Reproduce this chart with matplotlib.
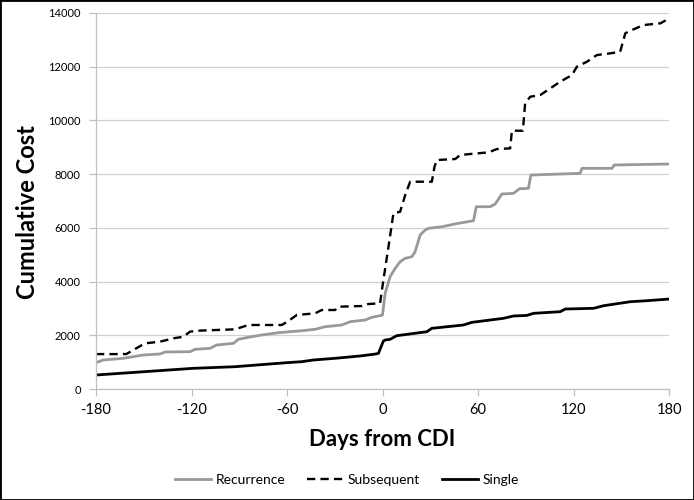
import matplotlib
matplotlib.use("Agg")
import matplotlib.pyplot as plt
from matplotlib.patches import Rectangle

# values
sub_days = [-180, -161, -156.6, -149.2, -139.8, -131.4, -125, -121, -116.7, -92.7,
            -84.3, -63.3, -59.2, -53.9, -42.4, -38.2, -29.8, -27.7, -13, -8.9,
            -1.6, 0.5, 3.7, 6.8, 11, 14.2, 17.3, 30.9, 32.6, 34.1,
            45.6, 48.7, 55, 64.4, 67.6, 71.8, 80.1, 81.2, 88.1, 89.5,
            92.7, 99, 105.3, 111.5, 118.9, 122, 128.3, 134.6, 143, 149.2,
            152.4, 155.5, 163.9, 174.4, 180]
sub_vals = [1300, 1300, 1452, 1700, 1761, 1887, 1947, 2133, 2170, 2222,
            2383, 2383, 2532, 2755, 2818, 2941, 2941, 3064, 3090, 3165,
            3190, 4058, 5298, 6540, 6600, 7223, 7718, 7718, 8277, 8526,
            8563, 8712, 8749, 8800, 8835, 8935, 8960, 9617, 9617, 10636,
            10882, 10945, 11195, 11441, 11690, 12000, 12185, 12435, 12498, 12558,
            13243, 13339, 13552, 13615, 13800]

rec_days = [-180, -175.4, -162.8, -156.6, -150.3, -139.8, -136.6, -120.9, -117.8, -108.4,
            -104.2, -93.7, -90.6, -84.3, -75.9, -65.5, -50.8, -42.4, -36.1, -25.6,
            -20.4, -11, -6.8, -2.6, -0.1, 1.6, 4.7, 7.9, 11, 14.2,
            18.4, 20.4, 23.6, 26.7, 28.8, 37.2, 47.6, 57.1, 58.8, 67.6,
            70.7, 74.9, 82.2, 86, 91.6, 93.1, 124.1, 125.2, 144, 145.5,
            168.1, 180]
rec_vals = [980, 1080, 1143, 1203, 1266, 1303, 1378, 1390, 1477, 1514,
            1638, 1700, 1850, 1925, 2010, 2096, 2170, 2222, 2320, 2383,
            2506, 2569, 2669, 2718, 2750, 3563, 4181, 4493, 4740, 4866,
            4925, 5112, 5733, 5920, 5983, 6043, 6169, 6266, 6787, 6787,
            6888, 7260, 7285, 7457, 7471, 7967, 8030, 8216, 8216, 8340,
            8365, 8377]

sgl_days = [-180, -118.9, -92.7, -60.2, -50.8, -43.5, -29.8, -14.1, -4.7, -2.6,
            0.5, 1.6, 4.7, 8.9, 27.8, 30.9, 50.8, 56.1, 75.9, 82.2,
            90.6, 94.8, 111.5, 114.7, 132.5, 138.8, 155.5, 166, 180]
sgl_vals = [521, 770, 830, 980, 1017, 1080, 1143, 1230, 1300, 1329,
            1787, 1824, 1850, 1985, 2133, 2259, 2383, 2482, 2632, 2718,
            2740, 2818, 2878, 2978, 3004, 3101, 3250, 3287, 3350]

x_ticks = [-180, -120, -60, 0, 60, 120, 180]
y_ticks = [0, 2000, 4000, 6000, 8000, 10000, 12000, 14000]

plt.rcParams['font.family'] = ['Lato', 'DejaVu Sans']

fig = plt.figure(figsize=(6.94, 5.0), dpi=100)
ax = fig.add_axes([0.1383, 0.222, 0.826, 0.752])

ax.plot(rec_days, rec_vals, color='#999999', lw=2.0, label='Recurrence')
ax.plot(sub_days, sub_vals, color='black', lw=1.7, ls=(0, (3.5, 2.2)), label='Subsequent')
ax.plot(sgl_days, sgl_vals, color='black', lw=2.0, label='Single')

ax.set_xlim(-180, 180)
ax.set_ylim(0, 14000)
ax.set_xticks(x_ticks)
ax.set_yticks(y_ticks)
ax.set_xticklabels([str(t) for t in x_ticks], fontsize=10.5)
ax.set_yticklabels([str(t) for t in y_ticks], fontsize=8)

ax.grid(axis='y', color='#d0d0d0', lw=0.9)
ax.set_axisbelow(True)
for s in ['top', 'right']:
    ax.spines[s].set_visible(False)
for s in ['left', 'bottom']:
    ax.spines[s].set_color('#c0c0c0')
    ax.spines[s].set_linewidth(0.9)
ax.tick_params(axis='both', colors='#c0c0c0', length=5, width=0.9, labelcolor='black')
ax.tick_params(axis='y', pad=6)
ax.tick_params(axis='x', pad=5)

ax.set_xlabel('Days from CDI', fontsize=16, fontweight='bold', labelpad=9)
ax.set_ylabel('Cumulative Cost', fontsize=17, fontweight='bold', labelpad=8)
ax.yaxis.set_label_coords(-0.1, 0.47)

fig.legend(loc='center', bbox_to_anchor=(0.5, 0.04), ncol=3, frameon=False,
           fontsize=10, handlelength=2.6, columnspacing=1.6, handletextpad=0.3)

fig.patches.append(Rectangle((0, 0), 1, 1, transform=fig.transFigure, fill=False,
                             edgecolor='black', lw=2, zorder=10))

fig.savefig('out.png', dpi=100)
